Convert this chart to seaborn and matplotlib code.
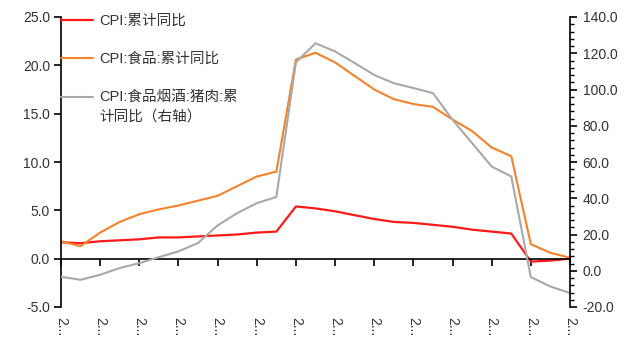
import numpy as np
import pandas as pd
import matplotlib
matplotlib.use("Agg")
import matplotlib.pyplot as plt
from matplotlib.ticker import MultipleLocator, FixedLocator
import seaborn as sns

# ---- data -------------------------------------------------------------
months = ["2019-01", "2019-02", "2019-03", "2019-04", "2019-05", "2019-06",
          "2019-07", "2019-08", "2019-09", "2019-10", "2019-11", "2019-12",
          "2020-01", "2020-02", "2020-03", "2020-04", "2020-05", "2020-06",
          "2020-07", "2020-08", "2020-09", "2020-10", "2020-11", "2020-12",
          "2021-01", "2021-02", "2021-03"]
cpi = [1.7, 1.6, 1.8, 1.9, 2.0, 2.2, 2.2, 2.3, 2.4, 2.5, 2.7, 2.8,
       5.4, 5.2, 4.9, 4.5, 4.1, 3.8, 3.7, 3.5, 3.3, 3.0, 2.8, 2.6,
       -0.3, -0.2, 0.0]
food = [1.8, 1.3, 2.7, 3.8, 4.6, 5.1, 5.5, 6.0, 6.5, 7.5, 8.5, 9.0,
        20.6, 21.3, 20.3, 18.9, 17.5, 16.5, 16.0, 15.7, 14.4, 13.2, 11.5, 10.6,
        1.5, 0.6, 0.1]
pork = [-3.3, -5.0, -2.2, 1.5, 4.2, 7.5, 10.7, 15.3, 25.0, 31.8, 37.3, 40.7,
        115.0, 125.5, 121.0, 114.6, 108.0, 103.5, 100.8, 98.0, 83.3, 70.4, 57.5, 52.0,
        -3.5, -8.7, -12.3]

labels = ["CPI:累计同比", "CPI:食品:累计同比", "CPI:食品烟酒:猪肉:累\n计同比（右轴）"]
colors = ["#FF1A1A", "#F5822A", "#A9A9A9"]
left_ticks = [-5.0, 0.0, 5.0, 10.0, 15.0, 20.0, 25.0]
right_ticks = [-20.0, 0.0, 20.0, 40.0, 60.0, 80.0, 100.0, 120.0, 140.0]

df = pd.DataFrame({"idx": np.arange(len(months)), "month": months,
                   "cpi": cpi, "food": food, "pork": pork})

# ---- style ------------------------------------------------------------
sns.set_style("ticks")
plt.rcParams["font.family"] = ["Liberation Sans", "Noto Sans CJK SC", "DejaVu Sans"]
txt = "#333333"

fig = plt.figure(figsize=(6.4, 3.61), dpi=100)
ax = fig.add_axes([61 / 640, 1 - 307 / 361, 509 / 640, 290 / 361])
ax2 = ax.twinx()

sns.lineplot(data=df, x="idx", y="cpi", ax=ax, color=colors[0], lw=1.6, label=labels[0], legend=False)
sns.lineplot(data=df, x="idx", y="food", ax=ax, color=colors[1], lw=1.5, label=labels[1], legend=False)
sns.lineplot(data=df, x="idx", y="pork", ax=ax2, color=colors[2], lw=1.5, label=labels[2], legend=False)

ax.set_xlim(0, len(months) - 1)
ax.set_ylim(-5, 25)
ax2.set_ylim(-20, 140)

for a in (ax, ax2):
    a.set_xlabel("")
    a.set_ylabel("")
    a.spines["top"].set_visible(False)

ax.spines["right"].set_visible(False)
ax.spines["left"].set_color("black")
ax.spines["bottom"].set_position(("data", 0))
ax.spines["bottom"].set_color("black")
ax.spines["bottom"].set_linewidth(1.2)
ax.spines["left"].set_linewidth(1.2)
ax2.spines["left"].set_visible(False)
ax2.spines["bottom"].set_visible(False)
ax2.spines["right"].set_color("black")
ax2.spines["right"].set_linewidth(1.2)

ax.yaxis.set_major_locator(FixedLocator(left_ticks))
ax.set_yticklabels([f"{v:.1f}" for v in left_ticks])
ax2.yaxis.set_major_locator(FixedLocator(right_ticks))
ax2.set_yticklabels([f"{v:.1f}" for v in right_ticks])
ax2.yaxis.set_minor_locator(MultipleLocator(4))

xt = list(range(0, len(months), 2))
ax.set_xticks(xt)
ax.set_xticklabels([months[i][:1] + "..." for i in xt], rotation=-90, va="top", ha="center")

ax.tick_params(axis="y", direction="out", length=5, width=1.2, color="black",
               labelsize=10, labelcolor=txt, pad=3)
ax.tick_params(axis="x", direction="out", length=5, width=1.2, color="black",
               labelsize=10, labelcolor=txt, pad=37)
ax2.tick_params(axis="y", which="major", direction="out", length=5, width=1.2,
                color="black", labelsize=10, labelcolor=txt, pad=4)
ax2.tick_params(axis="y", which="minor", direction="out", length=3, width=1.0, color="black")

h1, l1 = ax.get_legend_handles_labels()
h2, l2 = ax2.get_legend_handles_labels()
leg = ax.legend(h1 + h2, l1 + l2, loc="upper left", bbox_to_anchor=(0.0, 1.01),
                frameon=False, fontsize=10.5, handlelength=2.2, handletextpad=0.4,
                labelspacing=1.65, borderpad=0, borderaxespad=0)
for t in leg.get_texts():
    t.set_color(txt)
leg.get_texts()[2].set_linespacing(1.45)
# align the grey handle with the first line of its two-line label
gl = leg.get_lines()[2]
gl.set_ydata(np.asarray(gl.get_ydata()) + 7.5)
leg.set_zorder(10)

fig.savefig("out.png", dpi=100)
